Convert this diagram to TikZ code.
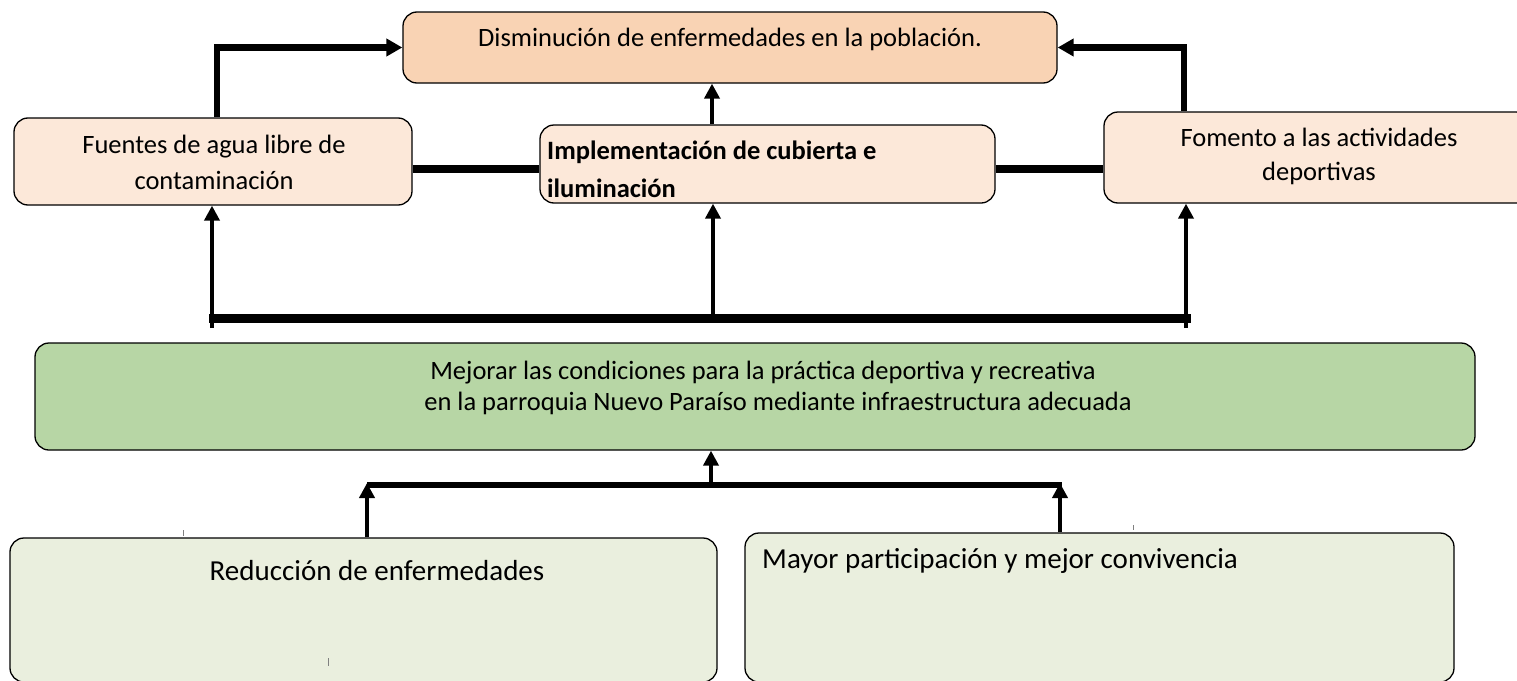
\documentclass[tikz,border=0pt]{standalone}
\usepackage{fontspec}
\setmainfont{Carlito}
\usetikzlibrary{arrows.meta,calc}
\definecolor{topfill}{RGB}{249,211,180}
\definecolor{peach}{RGB}{252,232,217}
\definecolor{goalgreen}{RGB}{183,214,165}
\definecolor{palegreen}{RGB}{234,239,222}
\tikzset{
  box/.style={draw=black, line width=1.3pt, rounded corners=14pt, inner sep=0pt},
  txt/.style={inner sep=0pt, font=\fontsize{26.5}{30}\selectfont},
  bigtxt/.style={inner sep=0pt, font=\fontsize{29}{34}\selectfont},
  bigarrow/.style={line width=6.5pt, -{Triangle[length=16pt,width=17pt]}},
  uparrow/.style={line width=4.5pt, -{Triangle[length=15pt,width=15pt]}},
  link/.style={line width=8pt},
  bar/.style={line width=9pt},
  lowbar/.style={line width=6pt},
  tick/.style={draw=gray, line width=0.6pt}
}
\begin{document}
\begin{tikzpicture}[x=1pt,y=-1pt]
\useasboundingbox[fill=white] (0,0) rectangle (1517,680);
% boxes
\node[box, fill=topfill, minimum width=654pt, minimum height=71pt] (top) at (730,47.5) {};
\node[box, fill=peach, minimum width=398pt, minimum height=87pt] (fuentes) at (213,161.5) {};
\node[box, fill=peach, minimum width=455pt, minimum height=78pt] (middle) at (767.5,164) {};
\node[box, fill=peach, minimum width=426pt, minimum height=91pt] (right) at (1317,157.5) {};
\node[box, fill=goalgreen, minimum width=1440pt, minimum height=107pt] (goal) at (755,396.5) {};
\node[box, fill=palegreen, minimum width=707pt, minimum height=144pt] (bl) at (363.5,610) {};
\node[box, fill=palegreen, minimum width=709pt, minimum height=149pt] (br) at (1099.5,607.5) {};
% texts
\node[txt, anchor=base] (ttop) at (730,46) {Disminución de enfermedades en la población.};
\node[txt, anchor=base] (tf1) at (214,153) {Fuentes de agua libre de};
\node[txt, anchor=base] (tf2) at (214,189) {contaminación};
\node[txt, anchor=base west, font=\fontsize{26.5}{30}\selectfont\bfseries] (tm1) at (547,159) {Implementación de cubierta e};
\node[txt, anchor=base west, font=\fontsize{26.5}{30}\selectfont\bfseries] (tm2) at (547,197) {iluminación};
\node[txt, anchor=base] (tr1) at (1319,146) {Fomento a las actividades};
\node[txt, anchor=base] (tr2) at (1319,180) {deportivas};
\node[txt, anchor=base] (tg1) at (763,379) {Mejorar las condiciones para la práctica deportiva y recreativa};
\node[txt, anchor=base] (tg2) at (778,410) {en la parroquia Nuevo Paraíso mediante infraestructura adecuada};
\node[bigtxt, anchor=base] (tbl) at (377,580) {Reducción de enfermedades};
\node[bigtxt, anchor=base west] (tbr) at (762,568) {Mayor participación y mejor convivencia};
% helper coordinates
\coordinate (xf) at (217,0);
\coordinate (xr) at (1184,0);
\coordinate (xm) at (712,0);
\coordinate (barL) at (209,318);
\coordinate (barR) at (1191,318);
\coordinate (vL) at (212,328);
\coordinate (vM) at (713,314);
\coordinate (vR) at (1186,328);
\coordinate (lowL) at (367,485);
\coordinate (lowR) at (1062,485);
\coordinate (lowM) at (711,485);
\coordinate (lowRx) at (1060,485);
\coordinate (linky) at (0,169);
% connectors to top box
\draw[bigarrow] (fuentes.north -| xf) |- (top.west);
\draw[bigarrow] (right.north -| xr) |- (top.east);
\draw[uparrow] (middle.north -| xm) -- (top.south -| xm);
% links between middle row boxes
\draw[link] (fuentes.east |- linky) -- (middle.west |- linky);
\draw[link] (middle.east |- linky) -- (right.west |- linky);
% bar and vertical arrows
\draw[bar] (barL) -- (barR);
\draw[uparrow] (vL) -- (fuentes.south -| vL);
\draw[uparrow] (vM) -- (middle.south -| vM);
\draw[uparrow] (vR) -- (right.south -| vR);
% lower connectors
\draw[uparrow] (lowM) -- (goal.south -| lowM);
\draw[lowbar] (lowL) -- (lowR);
\draw[uparrow] (bl.north -| lowL) -- ($(lowL)+(0,-2)$);
\draw[uparrow] (br.north -| lowRx) -- ($(lowRx)+(0,-2)$);
% small marks
\draw[tick] (183,530) -- (183,536);
\draw[tick] (328,658) -- (328,666);
\draw[tick] (1133,525) -- (1133,530);
\end{tikzpicture}
\end{document}
